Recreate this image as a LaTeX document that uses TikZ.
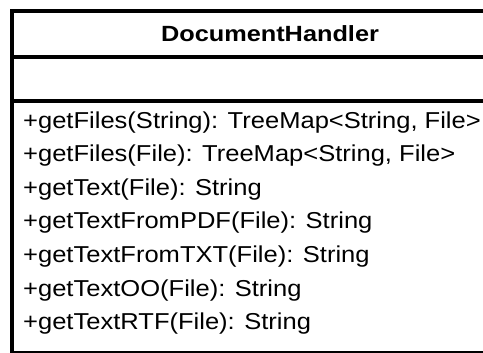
\documentclass[tikz,border=0pt]{standalone}
\usepackage{fontspec}
\setmainfont{Liberation Sans}
\begin{document}
\begin{tikzpicture}[x=1pt,y=-1pt,
  frame/.style={line width=3.6pt, draw=black},
  classname/.style={font=\fontsize{22}{26}\selectfont\bfseries, anchor=base, inner sep=0pt},
  member/.style={font=\fontsize{23}{27}\selectfont, anchor=base west, inner sep=0pt}]
\useasboundingbox (0,0) rectangle (483,353);
\clip (0,0) rectangle (483,353);
% class box with its three compartments
\draw[frame] (12,11) rectangle (560,352.5);
\draw[frame] (12,57.3) -- (560,57.3);
\draw[frame] (12,101.2) -- (560,101.2);
% class name
\node[classname] (name) at (270,42) {\scalebox{1.15}[1]{DocumentHandler}};
% operations
\foreach \txt [count=\i] in {
  {+getFiles(String): TreeMap<String, File>},
  {+getFiles(File): TreeMap<String, File>},
  {+getText(File): String},
  {+getTextFromPDF(File): String},
  {+getTextFromTXT(File): String},
  {+getTextOO(File): String},
  {+getTextRTF(File): String}}
  \node[member] (op\i) at (23,{128.5+(\i-1)*33.5}) {\scalebox{1.11}[1]{\txt}};
\end{tikzpicture}
\end{document}
